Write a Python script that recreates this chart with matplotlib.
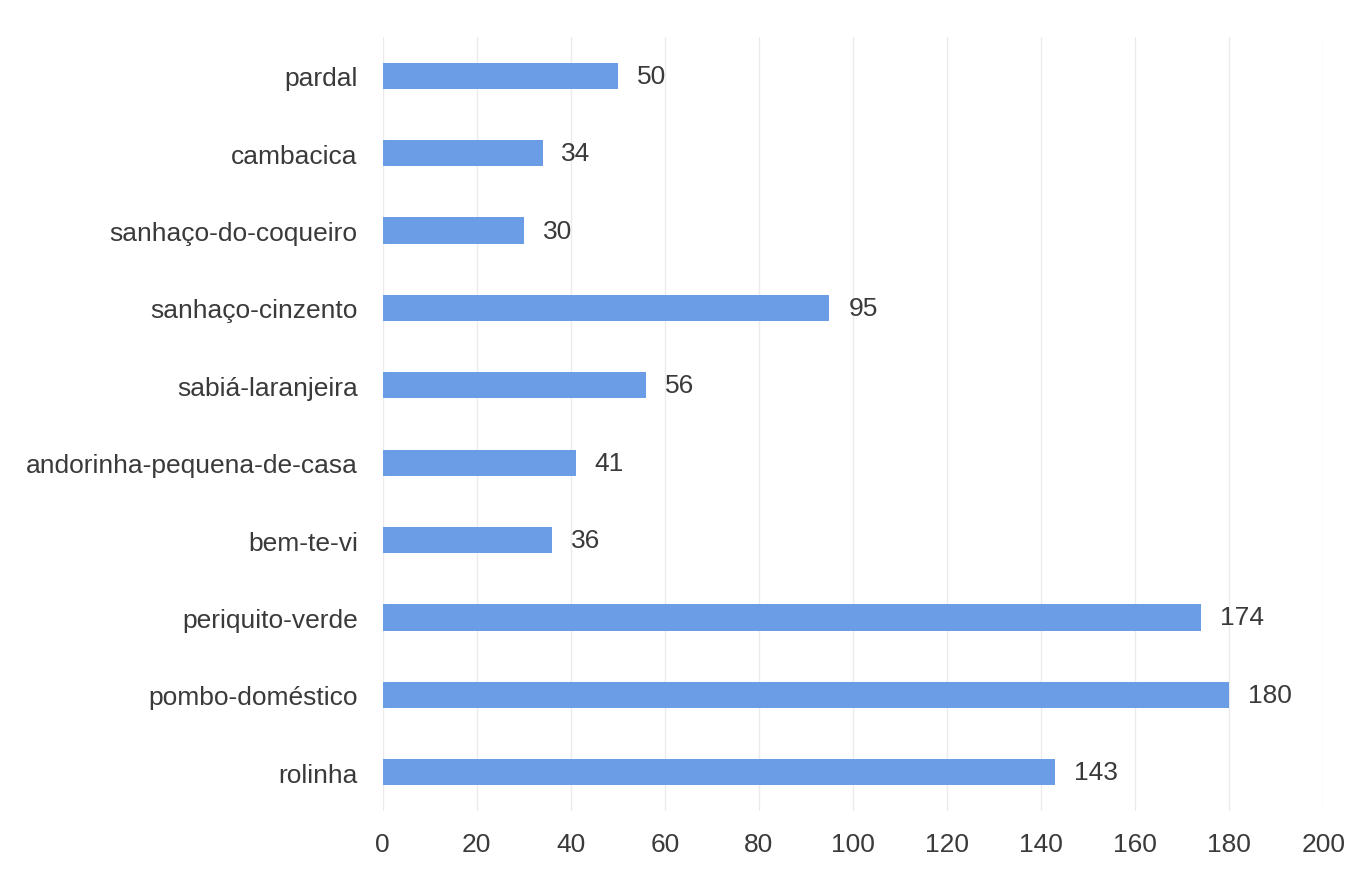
import matplotlib.pyplot as plt

species = ['pardal', 'cambacica', 'sanhaço-do-coqueiro', 'sanhaço-cinzento',
           'sabiá-laranjeira', 'andorinha-pequena-de-casa', 'bem-te-vi',
           'periquito-verde', 'pombo-doméstico', 'rolinha']
counts = [50, 34, 30, 95, 56, 41, 36, 174, 180, 143]
xticks = [0, 20, 40, 60, 80, 100, 120, 140, 160, 180, 200]

plt.rcParams['font.family'] = ['Liberation Sans', 'DejaVu Sans']

fig = plt.figure(figsize=(13.67, 8.7), dpi=100)
ax = fig.add_axes([0.280, 0.067, 0.688, 0.889])

pos = list(range(len(species)))
ax.barh(pos, counts, height=0.34, color='#6a9de6', zorder=2)
for p, v in zip(pos, counts):
    ax.text(v + 4, p, str(v), va='center', ha='left', fontsize=19, color='#3a3a3a')

ax.set_ylim(len(species) - 0.5, -0.5)
ax.set_xlim(0, 200)
ax.set_xticks(xticks)
ax.set_yticks(pos)
ax.set_yticklabels(species)
ax.tick_params(axis='both', length=0, labelsize=19, colors='#3a3a3a')
ax.tick_params(axis='y', pad=18)
ax.tick_params(axis='x', pad=15)
ax.grid(axis='x', color='#ebebeb', linewidth=1, zorder=0)
for s in ax.spines.values():
    s.set_visible(False)

fig.savefig('out.png', dpi=100)
